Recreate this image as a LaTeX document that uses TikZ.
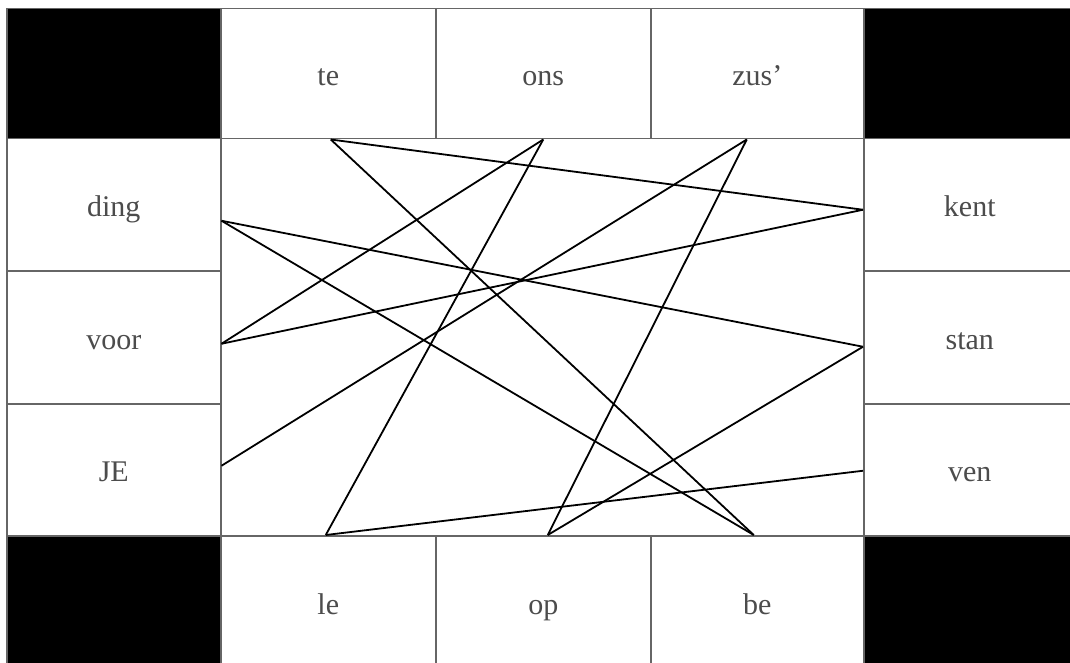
\documentclass[tikz,border=0pt]{standalone}
\usepackage{fontspec}
\setmainfont{Liberation Serif}
\begin{document}
\begin{tikzpicture}[x=1pt,y=-1pt,
  cell/.style={draw=black!60,line width=1.5pt,fill=white,anchor=north west,inner sep=0pt,
    text height=24pt,text depth=0pt,
    font=\fontsize{30}{32}\selectfont,text=black!70},
  blk/.style={draw=black!60,line width=1.5pt,fill=black,anchor=north west,inner sep=0pt},
  link/.style={draw=black,line width=1.8pt}]
\fill[white] (0,0) rectangle (1070,663);
\useasboundingbox (0,0) rectangle (1070,663);
% corners
\node[blk,minimum width=214pt,minimum height=130pt] (c1) at (6,8) {};
\node[blk,minimum width=212pt,minimum height=130pt] (c2) at (863,8) {};
\node[blk,minimum width=214pt,minimum height=133pt] (c3) at (6,535) {};
\node[blk,minimum width=212pt,minimum height=133pt] (c4) at (863,535) {};
% top
\node[cell,minimum width=215pt,minimum height=130pt] (te) at (220,8) {te};
\node[cell,minimum width=215pt,minimum height=130pt] (ons) at (435,8) {ons};
\node[cell,minimum width=213pt,minimum height=130pt] (zus) at (650,8) {zus'};
% left
\node[cell,minimum width=214pt,minimum height=132pt] (ding) at (6,138) {ding};
\node[cell,minimum width=214pt,minimum height=133pt] (voor) at (6,270) {voor};
\node[cell,minimum width=214pt,minimum height=132pt] (je) at (6,403) {JE};
% right
\node[cell,minimum width=212pt,minimum height=132pt] (kent) at (863,138) {kent};
\node[cell,minimum width=212pt,minimum height=133pt] (stan) at (863,270) {stan};
\node[cell,minimum width=212pt,minimum height=132pt] (ven) at (863,403) {ven};
% bottom
\node[cell,minimum width=215pt,minimum height=133pt] (le) at (220,535) {le};
\node[cell,minimum width=215pt,minimum height=133pt] (op) at (435,535) {op};
\node[cell,minimum width=213pt,minimum height=133pt] (be) at (650,535) {be};
% endpoints
\coordinate (pte) at ([xshift=2.5pt]te.south);
\coordinate (pons) at (ons.south);
\coordinate (pzus) at ([xshift=-10.5pt]zus.south);
\coordinate (pding) at ([yshift=-16pt]ding.east);
\coordinate (pvoor) at ([yshift=-6.5pt]voor.east);
\coordinate (pje) at ([yshift=4pt]je.east);
\coordinate (pkent) at ([yshift=-5pt]kent.west);
\coordinate (pstan) at ([yshift=-9.5pt]stan.west);
\coordinate (pven) at ([yshift=-1pt]ven.west);
\coordinate (ple) at ([xshift=-2.5pt]le.north);
\coordinate (pop) at ([xshift=4.5pt]op.north);
\coordinate (pbe) at ([xshift=-3.5pt]be.north);
% connectors
\draw[link] (pte) -- (pkent);
\draw[link] (pte) -- (pbe);
\draw[link] (pons) -- (pvoor);
\draw[link] (pons) -- (ple);
\draw[link] (pzus) -- (pje);
\draw[link] (pzus) -- (pop);
\draw[link] (pding) -- (pstan);
\draw[link] (pding) -- (pbe);
\draw[link] (pvoor) -- (pkent);
\draw[link] (ple) -- (pven);
\draw[link] (pop) -- (pstan);
\end{tikzpicture}
\end{document}
